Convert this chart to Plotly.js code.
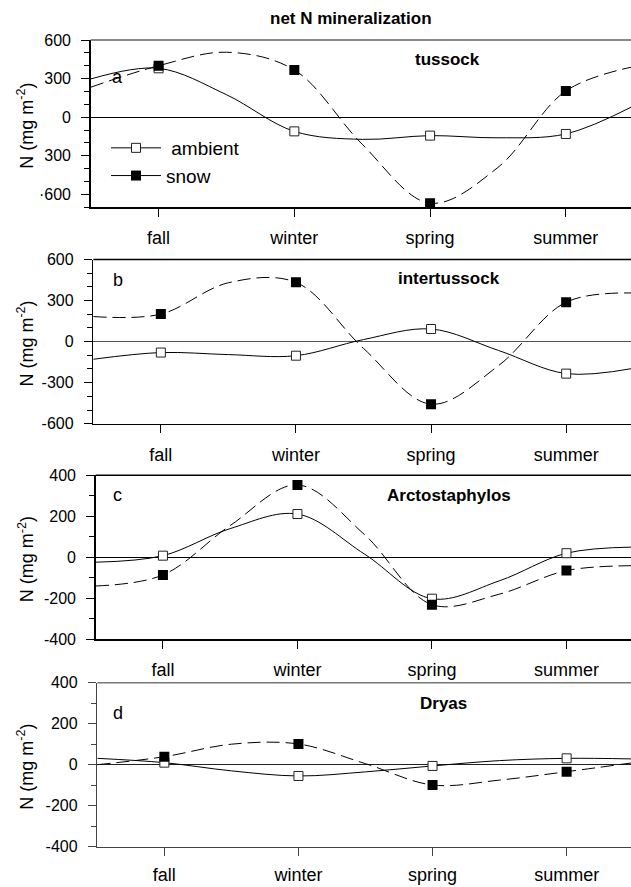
<!DOCTYPE html>
<html>
<head>
<meta charset="utf-8">
<script src="https://cdn.plot.ly/plotly-3.0.1.min.js"></script>
<style>
html,body{margin:0;padding:0;background:#fff;overflow:hidden;}
#chart{width:631px;height:887px;}
</style>
</head>
<body>
<div id="chart"></div>
<script>
// ---- data ----
const seasons = ["fall", "winter", "spring", "summer"];
const seasonX = [0, 1, 2, 3];
// smooth-curve nodes (x positions on the season axis)
const curveX = [-0.5, 0, 0.5, 1, 1.5, 2, 2.5, 3, 3.5];

// a: tussock
const tussockAmbient = [380, -110, -143, -130];
const tussockSnow = [400, 367, -668, 204];
const tussockAmbientCurve = [297, 380, 175, -110, -172, -143, -160, -130, 88];
const tussockSnowCurve = [233, 400, 505, 367, -210, -668, -390, 204, 393];

// b: intertussock
const interAmbient = [-80, -103, 92, -234];
const interSnow = [201, 433, -457, 288];
const interAmbientCurve = [-129, -80, -95, -103, 15, 92, -65, -234, -195];
const interSnowCurve = [183, 201, 430, 433, -50, -457, -175, 288, 355];

// c: Arctostaphylos
const arctoAmbient = [8, 211, -202, 20];
const arctoSnow = [-86, 353, -231, -65];
const arctoAmbientCurve = [-24, 8, 140, 211, 15, -202, -115, 20, 50];
const arctoSnowCurve = [-140, -86, 155, 353, 110, -231, -180, -65, -41];

// d: Dryas
const dryasAmbient = [10, -55, -6, 31];
const dryasSnow = [39, 101, -99, -34];
const dryasAmbientCurve = [31, 10, -30, -55, -35, -6, 20, 31, 28];
const dryasSnowCurve = [0, 39, 100, 101, 5, -99, -75, -34, 10];

// tick labels
const tickValsA = [-600, -300, 0, 300, 600];
const tickTextA = ["·600", "300", "0", "300", "600"];
const tickValsB = [-600, -300, 0, 300, 600];
const tickTextB = ["-600", "-300", "0", "300", "600"];
const tickValsCD = [-400, -200, 0, 200, 400];
const tickTextCD = ["-400", "-200", "0", "200", "400"];

const seriesNames = ["\u00a0ambient", "snow"];
const mainTitle = "net N mineralization";
const yTitle = "N (mg m<sup>-2</sup>)";

// ---- layout helpers ----
const W = 631, H = 887;
const px = x => x / W;
const py = y => 1 - y / H;
const FONT = "Arial, 'Liberation Sans', Helvetica, sans-serif";

const panels = [
  {name: "tussock", letter: "a", amb: tussockAmbient, snow: tussockSnow, ambC: tussockAmbientCurve, snowC: tussockSnowCurve,
   range: [-700, 600], tv: tickValsA, tt: tickTextA, top: 40, bottom: 207.3, left: 90.7,
   axColor: "#000", topColor: "#8a8a8a", topW: 2.2, zeroColor: "#000", standoff: 6,
   nameXY: [447, 60], letterXY: [118, 77]},
  {name: "intertussock", letter: "b", amb: interAmbient, snow: interSnow, ambC: interAmbientCurve, snowC: interSnowCurve,
   range: [-600, 600], tv: tickValsB, tt: tickTextB, top: 259.5, bottom: 423.7, left: 93.3,
   axColor: "#000", topColor: "#000", topW: 1.5, zeroColor: "#555", standoff: 6,
   nameXY: [449, 278], letterXY: [118, 280]},
  {name: "Arctostaphylos", letter: "c", amb: arctoAmbient, snow: arctoSnow, ambC: arctoAmbientCurve, snowC: arctoSnowCurve,
   range: [-400, 400], tv: tickValsCD, tt: tickTextCD, top: 475.3, bottom: 639.3, left: 95.7,
   axColor: "#000", topColor: "#000", topW: 1.5, zeroColor: "#000", standoff: 6,
   nameXY: [449, 495], letterXY: [117, 495]},
  {name: "Dryas", letter: "d", amb: dryasAmbient, snow: dryasSnow, ambC: dryasAmbientCurve, snowC: dryasSnowCurve,
   range: [-400, 400], tv: tickValsCD, tt: tickTextCD, top: 682.7, bottom: 846.7, left: 97.3,
   axColor: "#444", topColor: "#777", topW: 1.5, zeroColor: "#222", standoff: 3,
   nameXY: [443, 703], letterXY: [118, 713]}
];

const data = [];
const layout = {
  width: W, height: H,
  margin: {l: 0, r: 0, t: 0, b: 0},
  paper_bgcolor: "#fff", plot_bgcolor: "rgba(0,0,0,0)",
  font: {family: FONT, color: "#000"},
  showlegend: true,
  legend: {x: px(106), y: py(129), xanchor: "left", yanchor: "top",
           font: {size: 19, family: FONT}, bgcolor: "rgba(0,0,0,0)",
           itemwidth: 50, tracegroupgap: 0, traceorder: "normal"},
  annotations: [], shapes: []
};

const xRange = [-0.5, 3.48];

panels.forEach((p, i) => {
  const sfx = i === 0 ? "" : String(i + 1);
  const xa = "x" + sfx, ya = "y" + sfx;
  // curves
  data.push({type: "scatter", mode: "lines", x: curveX, y: p.ambC, xaxis: xa, yaxis: ya,
    line: {color: "#000", width: 1, shape: "spline", smoothing: 1}, showlegend: false, hoverinfo: "skip"});
  data.push({type: "scatter", mode: "lines", x: curveX, y: p.snowC, xaxis: xa, yaxis: ya,
    line: {color: "#000", width: 1, shape: "spline", smoothing: 1, dash: "13px,6px"}, showlegend: false, hoverinfo: "skip"});
  // markers
  data.push({type: "scatter", mode: "markers", x: seasonX, y: p.amb, xaxis: xa, yaxis: ya,
    marker: {symbol: "square", size: 9, color: "#fff", line: {color: "#222", width: 1}}, showlegend: false});
  data.push({type: "scatter", mode: "markers", x: seasonX, y: p.snow, xaxis: xa, yaxis: ya,
    marker: {symbol: "square", size: 10, color: "#000", line: {color: "#000", width: 0}}, showlegend: false});

  layout["xaxis" + sfx] = {
    domain: [px(p.left), 1], range: xRange, anchor: ya,
    showgrid: false, zeroline: false, showline: true, linecolor: p.axColor, linewidth: 1.5,
    tickmode: "array", tickvals: seasonX, ticktext: seasons,
    ticks: "outside", ticklen: 8, tickwidth: 1, tickcolor: p.axColor,
    tickfont: {size: 18, family: FONT, color: "#000"}, ticklabelstandoff: p.standoff,
    fixedrange: true
  };
  layout["yaxis" + sfx] = {
    domain: [py(p.bottom), py(p.top)], range: p.range, anchor: xa,
    showgrid: false, zeroline: true, zerolinecolor: p.zeroColor, zerolinewidth: 1,
    showline: true, linecolor: p.axColor, linewidth: 1.5,
    tickmode: "array", tickvals: p.tv, ticktext: p.tt,
    ticks: "outside", ticklen: 8, tickwidth: 1, tickcolor: p.axColor,
    minor: {dtick: 100, tick0: 0, ticks: "outside", ticklen: 5, tickwidth: 1, tickcolor: p.axColor, showgrid: false},
    tickfont: {size: 16, family: FONT, color: "#000"}, ticklabelstandoff: 7,
    fixedrange: true
  };
  // top border
  layout.shapes.push({type: "line", xref: xa + " domain", yref: ya + " domain", x0: 0, x1: 1, y0: 1, y1: 1,
    line: {color: p.topColor, width: p.topW}});
  // panel name and letter
  layout.annotations.push({text: "<b>" + p.name + "</b>", xref: "paper", yref: "paper",
    x: px(p.nameXY[0]), y: py(p.nameXY[1]), xanchor: "center", yanchor: "middle", showarrow: false,
    font: {size: 17, family: FONT, color: "#000"}});
  layout.annotations.push({text: p.letter, xref: "paper", yref: "paper",
    x: px(p.letterXY[0]), y: py(p.letterXY[1]), xanchor: "center", yanchor: "middle", showarrow: false,
    font: {size: 18, family: FONT, color: "#000"}});
  // y title
  layout.annotations.push({text: yTitle, xref: "paper", yref: "paper", textangle: -90,
    x: px(26), y: py((p.top + p.bottom) / 2 + 2), xanchor: "center", yanchor: "middle", showarrow: false,
    font: {size: 18, family: FONT, color: "#000"}});
});

// legend entries (panel a)
data.push({type: "scatter", mode: "lines+markers", x: [null], y: [null], name: seriesNames[0],
  line: {color: "#000", width: 1}, marker: {symbol: "square", size: 9, color: "#fff", line: {color: "#222", width: 1}}, showlegend: true});
data.push({type: "scatter", mode: "lines+markers", x: [null], y: [null], name: seriesNames[1],
  line: {color: "#000", width: 1}, marker: {symbol: "square", size: 10, color: "#000"}, showlegend: true});

layout.annotations.push({text: "<b>" + mainTitle + "</b>", xref: "paper", yref: "paper",
  x: px(351), y: py(18), xanchor: "center", yanchor: "middle", showarrow: false,
  font: {size: 17, family: FONT, color: "#000"}});

Plotly.newPlot("chart", data, layout, {displayModeBar: false, staticPlot: true});
</script>
</body>
</html>
